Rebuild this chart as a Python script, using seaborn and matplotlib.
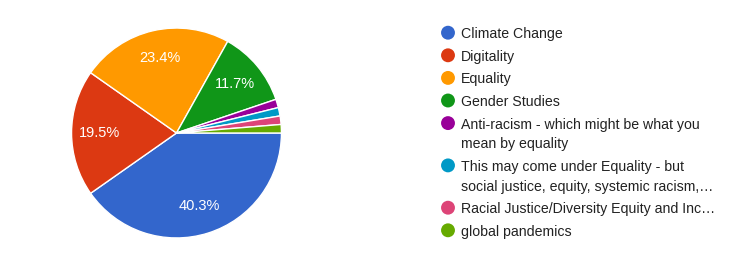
import matplotlib
matplotlib.use("Agg")
import matplotlib.pyplot as plt
import seaborn as sns

categories = [
    "Climate Change",
    "Digitality",
    "Equality",
    "Gender Studies",
    "Anti-racism - which might be what you\nmean by equality",
    "This may come under Equality - but\nsocial justice, equity, systemic racism,…",
    "Racial Justice/Diversity Equity and Inc…",
    "global pandemics",
]
counts = [31, 15, 18, 9, 1, 1, 1, 1]
colors = ["#3366cc", "#dc3912", "#ff9900", "#109618",
          "#990099", "#0099c6", "#dd4477", "#66aa00"]

sns.set_theme(style="white")
plt.rcParams["font.family"] = ["Liberation Sans", "DejaVu Sans"]

W, H = 743, 269
fig = plt.figure(figsize=(W / 100, H / 100), dpi=100)
fig.patch.set_facecolor("white")

# pie axes
cx, cy, r = 176.5, 133, 106
ax = fig.add_axes([(cx - r) / W, (H - cy - r) / H, 2 * r / W, 2 * r / H])

def fmt(p):
    return f"{p:.1f}%" if p >= 5 else ""

wedges, texts, autotexts = ax.pie(
    counts, colors=colors, startangle=0, counterclock=False,
    autopct=fmt, pctdistance=0.73, radius=1,
    wedgeprops=dict(edgecolor="white", linewidth=1.0),
    textprops=dict(color="white", fontsize=10.5),
)
ax.set_xlim(-1.01, 1.01)
ax.set_ylim(-1.01, 1.01)
ax.set_aspect("equal")
ax.axis("off")

# legend (pixel coordinates)
lax = fig.add_axes([0, 0, 1, 1])
lax.set_xlim(0, W)
lax.set_ylim(H, 0)
lax.axis("off")
y = 32.7
step, extra = 22.6, 19.7
for lab, col in zip(categories, colors):
    lax.scatter([448], [y], s=100, color=col, edgecolor="none")
    for k, line in enumerate(lab.split("\n")):
        lax.text(461, y + k * extra, line, va="center_baseline", ha="left",
                 fontsize=10.2, color="#222222")
    y += step + extra * lab.count("\n")

fig.savefig("out.png", dpi=100, facecolor="white")
